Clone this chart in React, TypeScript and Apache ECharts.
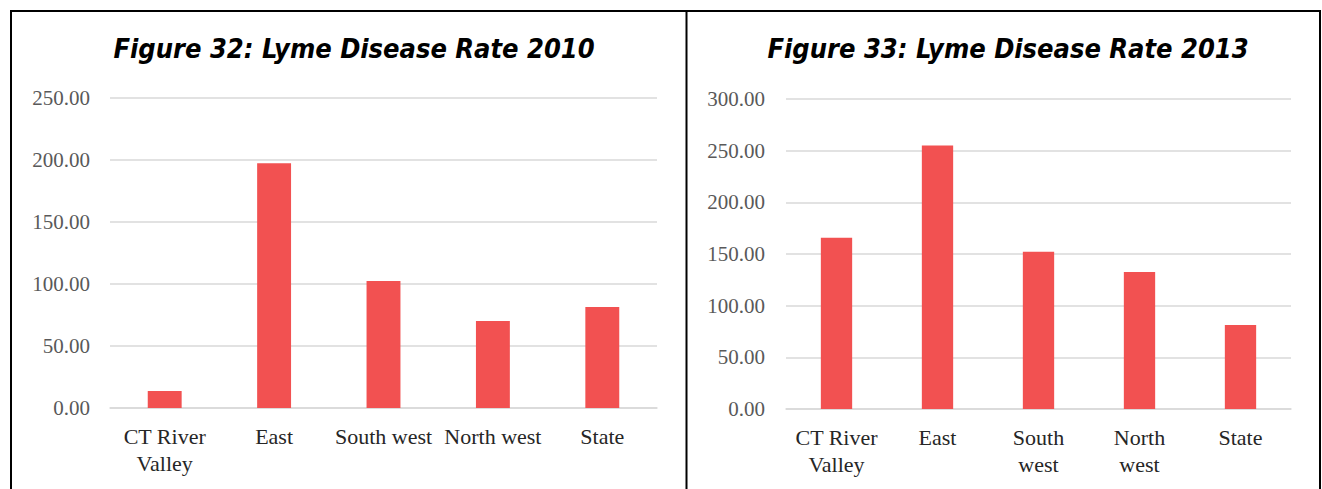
import React, { useEffect, useRef } from "react";
import * as echarts from "echarts";

const categories2010 = ["CT River\nValley", "East", "South west", "North west", "State"];
const values2010 = [13.7, 197.4, 102.4, 70.2, 81.5];
const categories2013 = ["CT River\nValley", "East", "South\nwest", "North\nwest", "State"];
const values2013 = [165.8, 255.0, 152.2, 132.6, 81.3];
const title2010 = "Figure 32: Lyme Disease Rate 2010";
const title2013 = "Figure 33: Lyme Disease Rate 2013";

const BAR = "#F25151";
const GRID = "#D9D9D9";

export default function App() {
  const ref = useRef<HTMLDivElement>(null);
  useEffect(() => {
    if (!ref.current) return;
    const chart = echarts.init(ref.current, undefined, { renderer: "svg" });
    const yLabel = {
      fontFamily: "Liberation Serif",
      fontSize: 21,
      color: "#595959",
      formatter: (v: number) => v.toFixed(2),
    };
    const xLabel = {
      fontFamily: "Liberation Serif",
      fontSize: 22,
      color: "#262626",
      lineHeight: 27,
      margin: 15,
      interval: 0,
    };
    const titleStyle = {
      fontFamily: "DejaVu Sans Condensed",
      fontStyle: "italic" as const,
      fontWeight: "bold" as const,
      fontSize: 27,
      color: "#000",
    };
    chart.setOption({
      animation: false,
      title: [
        { text: title2010, left: 349, top: 30, textAlign: "center", textStyle: titleStyle },
        { text: title2013, left: 1003, top: 30, textAlign: "center", textStyle: titleStyle },
      ],
      grid: [
        { left: 110, right: 665, top: 98, bottom: 81 },
        { left: 786, right: 31, top: 99, bottom: 80 },
      ],
      xAxis: [
        {
          type: "category",
          gridIndex: 0,
          data: categories2010,
          axisLine: { lineStyle: { color: GRID, width: 1.5 } },
          axisTick: { show: false },
          axisLabel: xLabel,
        },
        {
          type: "category",
          gridIndex: 1,
          data: categories2013,
          axisLine: { lineStyle: { color: GRID, width: 1.5 } },
          axisTick: { show: false },
          axisLabel: xLabel,
        },
      ],
      yAxis: [
        {
          type: "value",
          gridIndex: 0,
          min: 0,
          max: 250,
          interval: 50,
          axisLine: { show: false },
          axisTick: { show: false },
          splitLine: { lineStyle: { color: GRID, width: 1.5 } },
          axisLabel: { ...yLabel, margin: 20 },
        },
        {
          type: "value",
          gridIndex: 1,
          min: 0,
          max: 300,
          interval: 50,
          axisLine: { show: false },
          axisTick: { show: false },
          splitLine: { lineStyle: { color: GRID, width: 1.5 } },
          axisLabel: { ...yLabel, margin: 21 },
        },
      ],
      series: [
        {
          type: "bar",
          xAxisIndex: 0,
          yAxisIndex: 0,
          data: values2010,
          barWidth: "31%",
          itemStyle: { color: BAR },
        },
        {
          type: "bar",
          xAxisIndex: 1,
          yAxisIndex: 1,
          data: values2013,
          barWidth: "31%",
          itemStyle: { color: BAR },
        },
      ],
      graphic: [
        { type: "line", shape: { x1: 10, y1: 11, x2: 1321, y2: 11 }, style: { stroke: "#000", lineWidth: 2 } },
        { type: "line", shape: { x1: 11, y1: 10, x2: 11, y2: 489 }, style: { stroke: "#000", lineWidth: 2 } },
        { type: "line", shape: { x1: 686.5, y1: 10, x2: 686.5, y2: 489 }, style: { stroke: "#000", lineWidth: 2 } },
        { type: "line", shape: { x1: 1320, y1: 10, x2: 1320, y2: 489 }, style: { stroke: "#000", lineWidth: 2 } },
      ],
    });
    return () => chart.dispose();
  }, []);
  return (
    <div
      ref={ref}
      style={{ position: "absolute", left: 0, top: 0, width: 1322, height: 489, background: "#fff" }}
    />
  );
}
